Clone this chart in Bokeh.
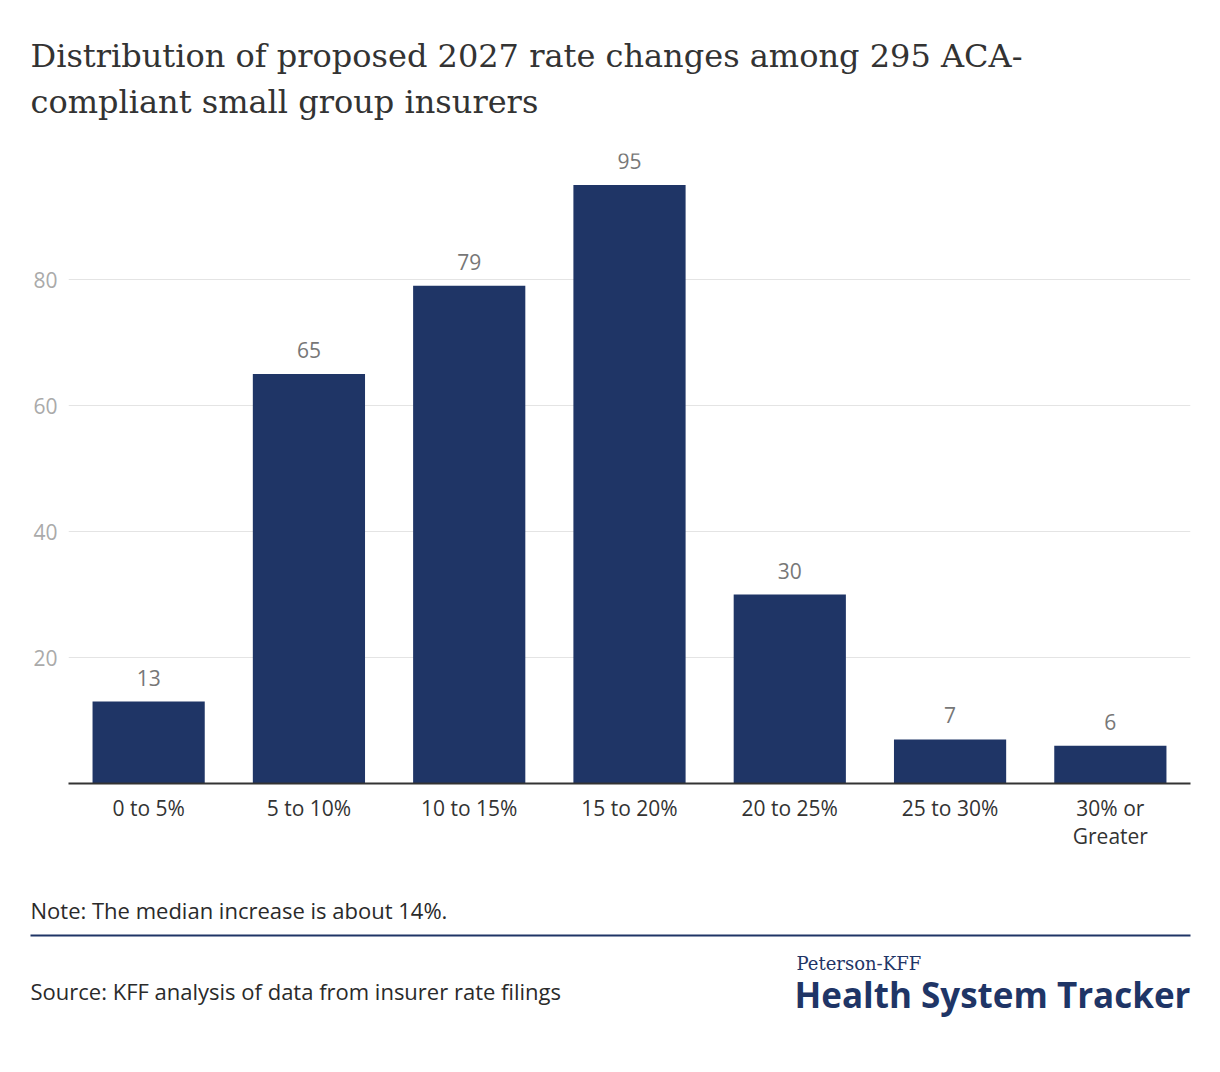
from bokeh.plotting import figure
from bokeh.models import Range1d, FactorRange, FixedTicker, ColumnDataSource, Label
from bokeh.core.properties import value
from bokeh.embed import file_html
from bokeh.resources import INLINE

categories = ["0 to 5%", "5 to 10%", "10 to 15%", "15 to 20%", "20 to 25%", "25 to 30%", "30% or\nGreater"]
counts = [13, 65, 79, 95, 30, 7, 6]
y_ticks = [20, 40, 60, 80]

title_lines = ["Distribution of proposed 2027 rate changes among 295 ACA-",
               "compliant small group insurers"]
note = "Note: The median increase is about 14%."
source = "Source: KFF analysis of data from insurer rate filings"

W = 1212
LEFT, RIGHT = 68, 22
NAVY = "#1f3566"
TXT = "#333333"
SANS = "Open Sans"


def text_fig(y0, y1):
    f = figure(width=W, height=y1 - y0, x_range=Range1d(0, W), y_range=Range1d(y1, y0),
               x_axis_location=None, y_axis_location=None, toolbar_location=None,
               output_backend="svg", min_border=0, outline_line_color=None)
    f.xgrid.visible = False
    f.ygrid.visible = False
    f.background_fill_color = "white"
    f.border_fill_color = "white"
    return f


def lab(f, x, y, text, font, size, color, style="normal", align="left"):
    f.add_layout(Label(x=x, y=y, text=text, text_font=font, text_font_size=size,
                       text_color=color, text_font_style=style, text_align=align,
                       text_baseline="alphabetic"))


# title (page y 0..145)
t = text_fig(0, 145)
lab(t, 30, 55, title_lines[0], "DejaVu Serif", "32px", TXT)
lab(t, 30, 101, title_lines[1], "DejaVu Serif", "32px", TXT)

# main chart (page y 145..875)
src = ColumnDataSource(dict(cat=categories, val=counts, lab=[str(v) for v in counts]))
p = figure(width=W, height=730, x_range=FactorRange(*categories), y_range=Range1d(0, 100),
           toolbar_location=None, output_backend="svg",
           min_border_left=LEFT, min_border_right=RIGHT, min_border_top=8, min_border_bottom=92,
           outline_line_color=None)
p.vbar(x="cat", top="val", width=0.7, source=src, color=NAVY, line_color=None)
p.text(x="cat", y="val", text="lab", source=src, text_align="center", text_baseline="alphabetic",
       y_offset=-24, text_font=value(SANS), text_font_size="21px", text_color="#777777")
p.xgrid.visible = False
p.ygrid.ticker = FixedTicker(ticks=y_ticks)
p.ygrid.grid_line_color = "#e4e4e4"
p.ygrid.grid_line_width = 1
p.yaxis.ticker = FixedTicker(ticks=y_ticks)
p.yaxis.axis_line_color = None
p.yaxis.major_tick_line_color = None
p.yaxis.minor_tick_line_color = None
p.yaxis.major_label_text_font = SANS
p.yaxis.major_label_text_font_size = "21px"
p.yaxis.major_label_text_color = "#aaaaaa"
p.yaxis.major_label_standoff = 5
p.xaxis.axis_line_color = TXT
p.xaxis.axis_line_width = 2
p.xaxis.major_tick_line_color = None
p.xaxis.minor_tick_line_color = None
p.xaxis.major_label_text_font = SANS
p.xaxis.major_label_text_font_size = "21px"
p.xaxis.major_label_text_line_height = 1.0
p.xaxis.major_label_text_color = TXT
p.xaxis.major_label_standoff = 4
p.background_fill_color = "white"
p.border_fill_color = "white"

# footer (page y 875..1064)
f = text_fig(875, 1064)
lab(f, 30, 909, note, SANS, "22px", "#2a2a2a")
f.segment(x0=[30], y0=[935], x1=[1190], y1=[935], line_color=NAVY, line_width=2)
lab(f, 30, 990, source, SANS, "22px", "#2a2a2a")
lab(f, 796, 963, "Peterson-KFF", "DejaVu Serif", "18px", NAVY)
lab(f, 1190, 994, "Health System Tracker", SANS, "35px", NAVY, style="bold", align="right")

open("out.html", "w").write(file_html([t, p, f], INLINE))
